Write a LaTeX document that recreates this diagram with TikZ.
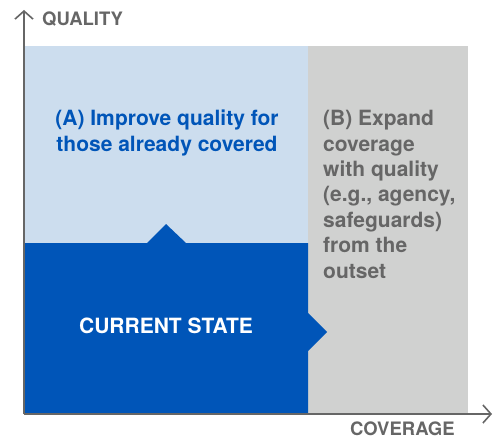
\documentclass[tikz,border=0pt]{standalone}
\usepackage{fontspec}
\setmainfont{TeX Gyre Heros}
\usetikzlibrary{arrows.meta}
\definecolor{stateblue}{RGB}{0,85,184}
\definecolor{paleblue}{RGB}{204,221,238}
\definecolor{palegray}{RGB}{208,209,208}
\definecolor{labelgray}{RGB}{102,102,102}
\tikzset{
	axis/.style={draw=labelgray, line width=1.6pt, -{Straight Barb[length=8pt,width=18pt]}},
	axislabel/.style={text=labelgray, font=\bfseries\fontsize{18.5}{22}\selectfont, inner sep=0pt},
	bodytext/.style={font=\bfseries\fontsize{21}{25.4}\selectfont, inner sep=0pt}
}
\begin{document}
\begin{tikzpicture}[x=1pt, y=-1pt]
	\useasboundingbox (0,0) rectangle (500,444);
	% quadrants
	\fill[paleblue] (25,46) rectangle (308,414);
	\fill[palegray] (308,46) rectangle (468,414);
	\fill[stateblue] (25,414) -- (25,243) -- (147,243) -- (166,224) -- (186,243)
		-- (308,243) -- (308,313) -- (327,332) -- (308,351) -- (308,414) -- cycle;
	% axes
	\coordinate (origin) at (24,414);
	\coordinate (qtip) at (24,10);
	\coordinate (ctip) at (492,414);
	\draw[axis] (origin) -- (qtip);
	\draw[axis] (origin) -- (ctip);
	\node[axislabel, anchor=base west] (quality) at (42,26) {QUALITY};
	\node[axislabel, anchor=base west] (coverage) at (350,435) {COVERAGE};
	% labels (base = last line)
	\node[bodytext, text=stateblue, align=center, anchor=base] (improve) at (167,151)
		{(A) Improve quality for\\those already covered};
	\node[bodytext, text=labelgray, align=left, anchor=base west] (expand) at (323,278)
		{(B) Expand\\coverage\\with quality\\(e.g., agency,\\safeguards)\\from the\\outset};
	\node[bodytext, text=white, anchor=base] (current) at (166,333) {CURRENT STATE};
\end{tikzpicture}
\end{document}
